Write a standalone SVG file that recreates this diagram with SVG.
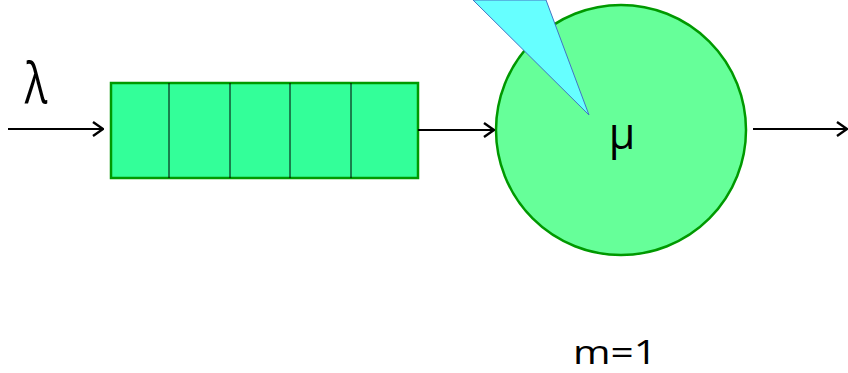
<svg xmlns="http://www.w3.org/2000/svg" width="848" height="373" viewBox="0 0 848 373">
  <defs>
    <marker id="arrow" viewBox="0 0 12 16" refX="11" refY="8" markerWidth="12" markerHeight="16" markerUnits="userSpaceOnUse" orient="auto">
      <path d="M1,1 L11,8 L1,15" fill="none" stroke="#000" stroke-width="2.4"/>
    </marker>
  </defs>
  <style>
    .conn { stroke: #000; stroke-width: 2; fill: none; marker-end: url(#arrow); }
    .label { font-family: "Open Sans", "Liberation Sans", sans-serif; fill: #000; }
    .divider { stroke: #000; stroke-width: 1; }
  </style>
  <rect width="848" height="373" fill="#fff"/>

  <g id="queue">
    <rect x="111" y="83" width="307" height="95" fill="#33FF99" stroke="#009900" stroke-width="2.5"/>
    <line class="divider" x1="169" y1="83" x2="169" y2="178"/>
    <line class="divider" x1="230" y1="83" x2="230" y2="178"/>
    <line class="divider" x1="290" y1="83" x2="290" y2="178"/>
    <line class="divider" x1="351" y1="83" x2="351" y2="178"/>
  </g>

  <g id="server">
    <circle cx="621" cy="130" r="125" fill="#66FF99" stroke="#009900" stroke-width="2.5"/>
    <polygon points="473,0 546,0 589,115" fill="#66FFFF" stroke="#4472C4" stroke-width="1"/>
    <text class="label" x="622" y="149" font-size="43" text-anchor="middle">μ</text>
  </g>

  <g id="labels">
    <text class="label" font-size="56" text-anchor="middle" transform="translate(36,103) scale(0.75,1)">λ</text>
    <text class="label" x="615" y="364" font-size="33" text-anchor="middle" textLength="84" lengthAdjust="spacingAndGlyphs">m=1</text>
  </g>

  <g id="connectors">
    <line class="conn" x1="8" y1="129" x2="103" y2="129"/>
    <line class="conn" x1="418" y1="130" x2="494" y2="130"/>
    <line class="conn" x1="753" y1="129" x2="847" y2="129"/>
  </g>
</svg>
